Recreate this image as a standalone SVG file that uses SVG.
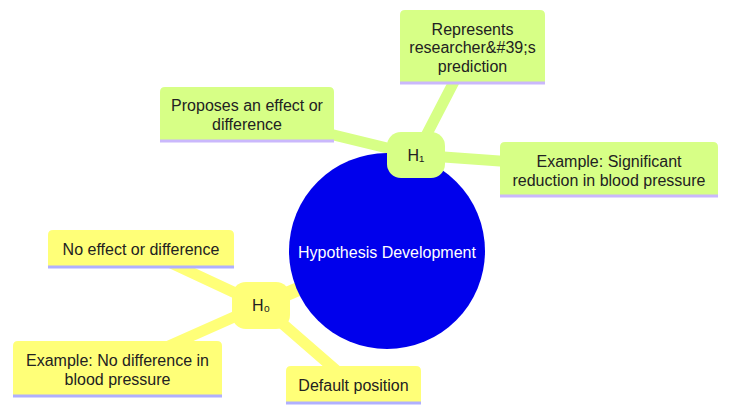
<svg xmlns="http://www.w3.org/2000/svg" width="732" height="413" viewBox="0 0 732 413">
<style>
text{font-family:"Liberation Sans",Arial,"DejaVu Sans",sans-serif;font-size:16px;fill:#222;text-anchor:middle}
.g{fill:#d7ff86}
.y{fill:#ffff78}
.gl{stroke:#cab8fc;stroke-width:3}
.yl{stroke:#b0b0ff;stroke-width:3}
.eg{stroke:#d7ff86;fill:none;stroke-linecap:round}
.ey{stroke:#ffff78;fill:none;stroke-linecap:round}
.d0{stroke-width:14}
.d1{stroke-width:11}
.root text{fill:#fff}
</style>
<rect width="732" height="413" fill="#fff"/>
<g id="connectors">
<line class="eg d0" x1="387" y1="251" x2="416" y2="155"/>
<line class="ey d0" x1="387" y1="251" x2="261" y2="305"/>
<line class="eg d1" x1="416" y1="155" x2="247" y2="114"/>
<line class="eg d1" x1="416" y1="155" x2="472" y2="47"/>
<line class="eg d1" x1="416" y1="155" x2="609" y2="169"/>
<line class="ey d1" x1="261" y1="305" x2="141" y2="249"/>
<line class="ey d1" x1="261" y1="305" x2="117" y2="369"/>
<line class="ey d1" x1="261" y1="305" x2="353" y2="385"/>
</g>
<g id="root" class="root">
<circle cx="387" cy="251" r="98" fill="#0000ec"/>
<text x="387" y="257.5">Hypothesis Development</text>
</g>
<g id="h1">
<rect class="g" x="387" y="132" width="58" height="46" rx="14"/>
<text x="416" y="161">H₁</text>
</g>
<g id="h1-represents">
<path class="g" d="M400 83V15q0-5 5-5h135q5 0 5 5V83Z"/>
<line class="gl" x1="400" y1="83" x2="545" y2="83"/>
<text x="472.5" y="34.5">Represents</text>
<text x="472.5" y="53">researcher&amp;#39;s</text>
<text x="472.5" y="71.5">prediction</text>
</g>
<g id="h1-proposes">
<path class="g" d="M160 141V92q0-5 5-5h164q5 0 5 5V141Z"/>
<line class="gl" x1="160" y1="141" x2="334" y2="141"/>
<text x="247" y="110.5">Proposes an effect or</text>
<text x="247" y="129.5">difference</text>
</g>
<g id="h1-example">
<path class="g" d="M500 196V147q0-5 5-5h208q5 0 5 5V196Z"/>
<line class="gl" x1="500" y1="196" x2="718" y2="196"/>
<text x="609" y="166.5">Example: Significant</text>
<text x="609" y="185.5">reduction in blood pressure</text>
</g>
<g id="h0">
<rect class="y" x="232" y="282" width="58" height="47" rx="14"/>
<text x="261" y="311">H₀</text>
</g>
<g id="h0-noeffect">
<path class="y" d="M48 267V235q0-5 5-5h176q5 0 5 5V267Z"/>
<line class="yl" x1="48" y1="267" x2="234" y2="267"/>
<text x="141" y="254.5">No effect or difference</text>
</g>
<g id="h0-example">
<path class="y" d="M13 396V346q0-5 5-5h199q5 0 5 5V396Z"/>
<line class="yl" x1="13" y1="396" x2="222" y2="396"/>
<text x="117.5" y="365.5">Example: No difference in</text>
<text x="117.5" y="384.5">blood pressure</text>
</g>
<g id="h0-default">
<path class="y" d="M286 403V371q0-5 5-5h125q5 0 5 5V403Z"/>
<line class="yl" x1="286" y1="403" x2="421" y2="403"/>
<text x="353.5" y="390.5">Default position</text>
</g>
</svg>
